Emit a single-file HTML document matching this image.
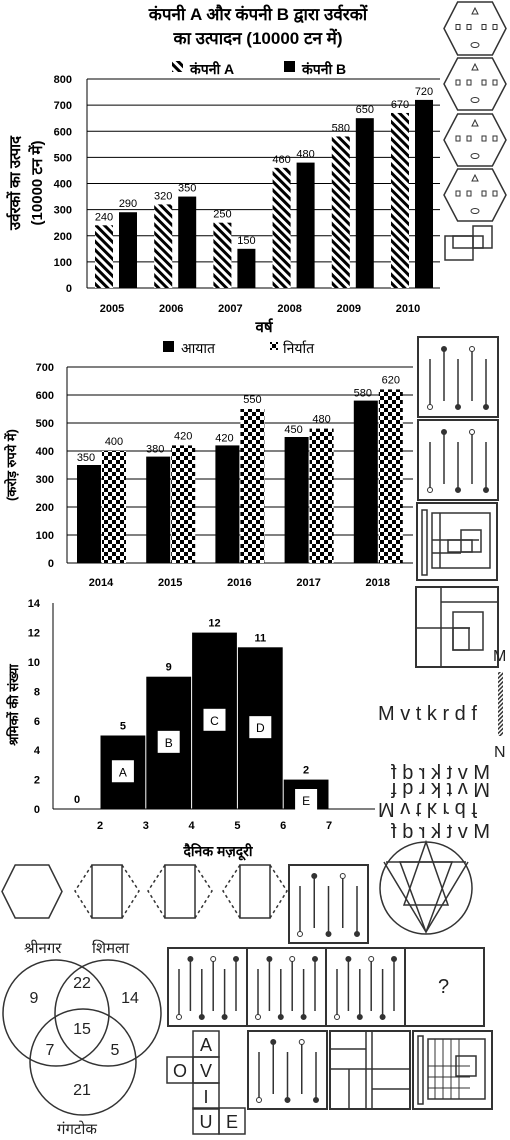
<!DOCTYPE html>
<html><head><meta charset="utf-8">
<style>
body{margin:0;width:510px;height:1140px;background:#fff;overflow:hidden;font-family:"Liberation Sans","Noto Sans CJK SC",sans-serif}
svg{position:absolute;left:0;top:0}
.b{font-weight:bold}
</style></head>
<body>
<svg id="s" width="510" height="1140" viewBox="0 0 510 1140" xmlns="http://www.w3.org/2000/svg">
<defs>
<pattern id="hatch" width="6" height="6" patternUnits="userSpaceOnUse" patternTransform="rotate(45)">
<rect width="6" height="6" fill="#fff"/><rect x="0" y="0" width="6" height="3" fill="#000"/>
</pattern>
<pattern id="check" width="8" height="8" patternUnits="userSpaceOnUse">
<rect width="8" height="8" fill="#fff"/><rect width="4" height="4" fill="#000"/><rect x="4" y="4" width="4" height="4" fill="#000"/>
</pattern>
<pattern id="mirr" width="3" height="3" patternUnits="userSpaceOnUse" patternTransform="rotate(45)">
<rect width="3" height="3" fill="#fff"/><rect width="1.5" height="3" fill="#333"/>
</pattern>
</defs>
<g id="c1">
<text x="258" y="20" text-anchor="middle" class="b" font-size="17">कंपनी A और कंपनी B द्वारा उर्वरकों</text>
<text x="258" y="44" text-anchor="middle" class="b" font-size="17">का उत्पादन (10000 टन में)</text>
<rect x="172" y="61" width="11" height="11" fill="url(#hatch)"/>
<text x="190" y="74" class="b" font-size="14">कंपनी A</text>
<rect x="284" y="61" width="11" height="11" fill="#000"/>
<text x="302" y="74" class="b" font-size="14">कंपनी B</text>
<text transform="translate(20,183) rotate(-90)" text-anchor="middle" class="b" font-size="15">उर्वरकों का उत्पाद</text>
<text transform="translate(42,183) rotate(-90)" text-anchor="middle" class="b" font-size="15">(10000 टन में)</text>
<text x="264" y="332" text-anchor="middle" class="b" font-size="15">वर्ष</text>
</g>
<g id="c2">
<rect x="163" y="341" width="11" height="11" fill="#000"/>
<text x="181" y="353" font-size="14">आयात</text>
<rect x="270" y="342" width="8" height="8" fill="url(#check)"/>
<text x="283" y="353" font-size="14">निर्यात</text>
<text transform="translate(16,465) rotate(-90)" text-anchor="middle" class="b" font-size="13">(करोड़ रुपये में)</text>
</g>
<g id="c3">
<text transform="translate(18,705) rotate(-90)" text-anchor="middle" class="b" font-size="13">श्रमिकों की संख्या</text>
<text x="218" y="856" text-anchor="middle" class="b" font-size="14">दैनिक मज़दूरी</text>
</g>
<g id="deco" fill="none" stroke="#333" stroke-width="1.5"></g>
</svg>
<script>
const svgNS="http://www.w3.org/2000/svg";
const S=document.getElementById('s');
function mk(p,tag,at,txt){const e=document.createElementNS(svgNS,tag);for(const k in at)e.setAttribute(k,at[k]);if(txt!==undefined)e.textContent=txt;p.appendChild(e);return e;}

// ---- Chart 1 data
const years1=["2005","2006","2007","2008","2009","2010"];
const compA=[240,320,250,460,580,670];
const compB=[290,350,150,480,650,720];
const ticks1=[0,100,200,300,400,500,600,700,800];
const c1=document.getElementById('c1');
const y1=v=>288-v*(209/800);
const x1=i=>116+i*59.2;
ticks1.forEach(t=>{
 if(t>0){const g=mk(c1,'line',{x1:87,x2:440,y1:y1(t),y2:y1(t),stroke:'#000','stroke-width':1});}
 const l=mk(c1,'text',{x:72,y:y1(t)+4,'text-anchor':'end','font-size':11,'class':'b'},t);
 
 
});
mk(c1,'line',{x1:87,x2:87,y1:79,y2:288,stroke:'#000'});
mk(c1,'line',{x1:87,x2:440,y1:288,y2:288,stroke:'#000'});
years1.forEach((yr,i)=>{
 const c=x1(i);
 const a=mk(c1,'rect',{x:c-21,y:y1(compA[i]),width:18,height:288-y1(compA[i]),fill:'url(#hatch)'});
 
 
 const b=mk(c1,'rect',{x:c+3,y:y1(compB[i]),width:18,height:288-y1(compB[i]),fill:'#000'});
 
 
 const la=mk(c1,'text',{x:c-12,y:y1(compA[i])-5,'text-anchor':'middle','font-size':11},compA[i]);
 
 
 const lb=mk(c1,'text',{x:c+12,y:y1(compB[i])-5,'text-anchor':'middle','font-size':11},compB[i]);
 
 
 const xl=mk(c1,'text',{x:c-4,y:312,'text-anchor':'middle','font-size':11,'class':'b'},yr);
 
 
});

// ---- Chart 2 data
const years2=["2014","2015","2016","2017","2018"];
const imports=[350,380,420,450,580];
const exports_=[400,420,550,480,620];
const ticks2=[0,100,200,300,400,500,600,700];
const c2=document.getElementById('c2');
const y2=v=>563-v*0.28;
const x2=i=>102+i*69.2;
ticks2.forEach(t=>{
 if(t>0){const g=mk(c2,'line',{x1:67,x2:413,y1:y2(t),y2:y2(t),stroke:'#000'});}
 const l=mk(c2,'text',{x:54,y:y2(t)+4,'text-anchor':'end','font-size':11,'class':'b'},t);
 
 
});
mk(c2,'line',{x1:67,x2:67,y1:367,y2:563,stroke:'#000'});
mk(c2,'line',{x1:67,x2:413,y1:563,y2:563,stroke:'#000'});
years2.forEach((yr,i)=>{
 const c=x2(i);
 const a=mk(c2,'rect',{x:c-25,y:y2(imports[i]),width:24,height:563-y2(imports[i]),fill:'#000'});
 
 
 const b=mk(c2,'rect',{x:c,y:y2(exports_[i]),width:24,height:563-y2(exports_[i]),fill:'url(#check)'});
 
 
 const la=mk(c2,'text',{x:c-16,y:y2(imports[i])-4,'text-anchor':'middle','font-size':11},imports[i]);
 
 
 const lb=mk(c2,'text',{x:c+12,y:y2(exports_[i])-6,'text-anchor':'middle','font-size':11},exports_[i]);
 
 
 const xl=mk(c2,'text',{x:c-1,y:586,'text-anchor':'middle','font-size':11,'class':'b'},yr);
 
 
});

// ---- Chart 3 data
const binStart=[1,2,3,4,5,6];
const counts=[0,5,9,12,11,2];
const binLetters=["","A","B","C","D","E"];
const ticks3=[0,2,4,6,8,10,12,14];
const xTicks3=[2,3,4,5,6,7];
const c3=document.getElementById('c3');
const y3=v=>809-v*14.7;
const x3=v=>100+(v-2)*45.8;
ticks3.forEach(t=>{
 const l=mk(c3,'text',{x:40,y:y3(t)+4,'text-anchor':'end','font-size':11,'class':'b'},t);
 
 
});
mk(c3,'line',{x1:53,x2:53,y1:603,y2:809,stroke:'#000'});
mk(c3,'line',{x1:53,x2:375,y1:809,y2:809,stroke:'#000'});
xTicks3.forEach(t=>{
 const l=mk(c3,'text',{x:x3(t),y:829,'text-anchor':'middle','font-size':11,'class':'b'},t);
 
 
});
binStart.forEach((s,i)=>{
 const xa=x3(s)+0.5,xb=x3(s+1)-0.5,c=(xa+xb)/2,top=y3(counts[i]);
 if(counts[i]>0){
  const r=mk(c3,'rect',{x:xa,y:top,width:xb-xa,height:809-top,fill:'#000'});
  
  
 }
 const l=mk(c3,'text',{x:c,y:top-6,'text-anchor':'middle','font-size':11,'class':'b'},counts[i]);
 
 
 if(binLetters[i]){
  const by=Math.max(top+22,(top+809)/2-12);
  const bx=mk(c3,'rect',{x:c-11,y:Math.min(by,789),width:22,height:22,fill:'#fff'});
  
  
  const bt=mk(c3,'text',{x:c,y:Math.min(by,789)+16,'text-anchor':'middle','font-size':12},binLetters[i]);
  
  
 }
});

// ---- decorative puzzle figures
const D=document.getElementById('deco');
function hex(x,y,w,h){const q=w*0.22;return `${x+q},${y} ${x+w-q},${y} ${x+w},${y+h/2} ${x+w-q},${y+h} ${x+q},${y+h} ${x},${y+h/2}`;}
[[2,55],[58,110],[114,166],[169,221]].forEach(([a,b])=>{
 const h=mk(D,'polygon',{points:hex(444,a,62,b-a)});
 
 
 for(let k=0;k<4;k++)mk(D,'rect',{x:456+k*11+(k>1?4:0),y:(a+b)/2-4,width:4,height:5,'stroke-width':1});
 mk(D,'ellipse',{cx:475,cy:b-10,rx:4,ry:2.5,'stroke-width':1});
 mk(D,'polygon',{points:`${475},${a+6} ${472},${a+12} ${478},${a+12}`,'stroke-width':1});
});
mk(D,'rect',{x:445,y:236,width:28,height:24});
mk(D,'rect',{x:453,y:236,width:30,height:12});
mk(D,'rect',{x:473,y:226,width:19,height:22});
function sticks(x0,y0,w,n){for(let k=0;k<n;k++){const x=x0+8+k*(w-16)/(n-1);const up=k%2;mk(D,'line',{x1:x,y1:y0+(up?8:18),x2:x,y2:y0+(up?60:68),'stroke-width':1.5});mk(D,'circle',{cx:x,cy:up?y0+8:y0+66,r:2.5,fill:k%3?'#333':'#fff','stroke-width':1});}}
[[418,337,80,80],[418,420,80,80]].forEach(([x,y,w,h])=>{const r=mk(D,'rect',{x:x,y:y,width:w,height:h,'stroke-width':2});sticks(x+4,y+4,w-8,5);});
mk(D,'rect',{x:417,y:503,width:80,height:77,'stroke-width':2});
mk(D,'rect',{x:422,y:510,width:5,height:65});
mk(D,'rect',{x:432,y:513,width:58,height:55});
mk(D,'line',{x1:440,y1:513,x2:440,y2:568});mk(D,'line',{x1:432,y1:540,x2:479,y2:540});mk(D,'line',{x1:432,y1:553,x2:461,y2:553});
mk(D,'rect',{x:461,y:530,width:20,height:22});mk(D,'rect',{x:448,y:540,width:24,height:12});
mk(D,'rect',{x:416,y:587,width:82,height:80,'stroke-width':2});
mk(D,'line',{x1:441,y1:587,x2:441,y2:667});mk(D,'line',{x1:441,y1:602,x2:498,y2:602});mk(D,'line',{x1:416,y1:628,x2:470,y2:628});
mk(D,'rect',{x:453,y:612,width:30,height:38});mk(D,'rect',{x:453,y:628,width:16,height:22});
mk(D,'rect',{x:498,y:672,width:5,height:64,fill:'url(#mirr)',stroke:'none'});
const T=(x,y,t,sz,tr,nm)=>{const e=mk(S,'text',{x:x,y:y,'font-size':sz,fill:'#222',transform:tr||''},t);return e;};
T(493,661,'M',16,'','mirror-label-m');T(494,757,'N',16,'','mirror-label-n');
T(378,720,'M v t k r d f',20,'','mirror-word');
T(-490,779,'M v t k r d f',20,'scale(-1,1)','option-row-1');
T(-490,-783,'M v t k r d f',20,'scale(-1,-1)','option-row-2');
T(378,-803,'M v t k r d f',20,'scale(1,-1)','option-row-3');
T(-490,838,'M v t k r d f',20,'scale(-1,1)','option-row-4');
mk(D,'circle',{cx:426,cy:888,r:46});
mk(D,'polygon',{points:'400,862 452,862 426,932'});mk(D,'polygon',{points:'426,842 404,905 448,905'});
mk(D,'line',{x1:386,y1:862,x2:466,y2:862});mk(D,'line',{x1:384,y1:862,x2:426,y2:932});mk(D,'line',{x1:468,y1:862,x2:426,y2:932});
// fold figures
mk(D,'polygon',{points:hex(2,865,60,53)});
[[92,122],[165,195],[240,270]].forEach(([a,b])=>{mk(D,'rect',{x:a,y:865,width:b-a,height:53});mk(D,'polyline',{points:`${a},865 ${a-17},891 ${a},918`,'stroke-dasharray':'3,3'});mk(D,'polyline',{points:`${b},865 ${b+17},891 ${b},918`,'stroke-dasharray':'3,3'});});
mk(D,'rect',{x:289,y:865,width:79,height:78,'stroke-width':2});sticks(292,868,73,5);
// venn
[[56,1013],[108,1013],[83,1062]].forEach(([cx,cy])=>{const c=mk(D,'circle',{cx:cx,cy:cy,r:53});});
[[34,1003,'9'],[82,988,'22'],[130,1003,'14'],[82,1034,'15'],[50,1055,'7'],[115,1055,'5'],[82,1095,'21']].forEach(([x,y,t])=>{const e=mk(S,'text',{x:x,y:y,'text-anchor':'middle','font-size':16,fill:'#222'},t);});
T(24,953,'श्रीनगर',15,'','venn-label-srinagar');T(92,953,'शिमला',15,'','venn-label-shimla');T(57,1134,'गंगटोक',15,'','venn-label-gangtok');
for(let k=0;k<4;k++){const r=mk(D,'rect',{x:168+k*79,y:948,width:79,height:78,'stroke-width':2});if(k<3)sticks(171+k*79,951,73,6);}
T(438,993,'?',20,'','question-mark');
[[193,1031,'A'],[167,1057,'O'],[193,1057,'V'],[193,1083,'I'],[193,1108,'U'],[219,1108,'E']].forEach(([x,y,t])=>{mk(D,'rect',{x:x,y:y,width:26,height:26});const e=mk(S,'text',{x:x+13,y:y+20,'text-anchor':'middle','font-size':18,fill:'#222'},t);});
mk(D,'rect',{x:248,y:1031,width:79,height:78,'stroke-width':2});sticks(251,1034,73,5);
mk(D,'rect',{x:330,y:1031,width:80,height:78,'stroke-width':2});
mk(D,'line',{x1:366,y1:1031,x2:366,y2:1109});mk(D,'line',{x1:372,y1:1031,x2:372,y2:1109});mk(D,'line',{x1:330,y1:1049,x2:366,y2:1049});mk(D,'line',{x1:330,y1:1069,x2:410,y2:1069});mk(D,'line',{x1:349,y1:1069,x2:349,y2:1109});mk(D,'line',{x1:372,y1:1089,x2:410,y2:1089});
mk(D,'rect',{x:413,y:1031,width:79,height:78,'stroke-width':2});
mk(D,'rect',{x:418,y:1036,width:5,height:68});mk(D,'rect',{x:428,y:1039,width:57,height:60});
for(let k=0;k<4;k++)mk(D,'line',{x1:435+k*8,y1:1039,x2:435+k*8,y2:1099,'stroke-width':1});
for(let k=0;k<3;k++)mk(D,'line',{x1:428,y1:1066+k*11,x2:470,y2:1066+k*11,'stroke-width':1});
mk(D,'rect',{x:456,y:1056,width:20,height:20});
</script>
</body></html>
